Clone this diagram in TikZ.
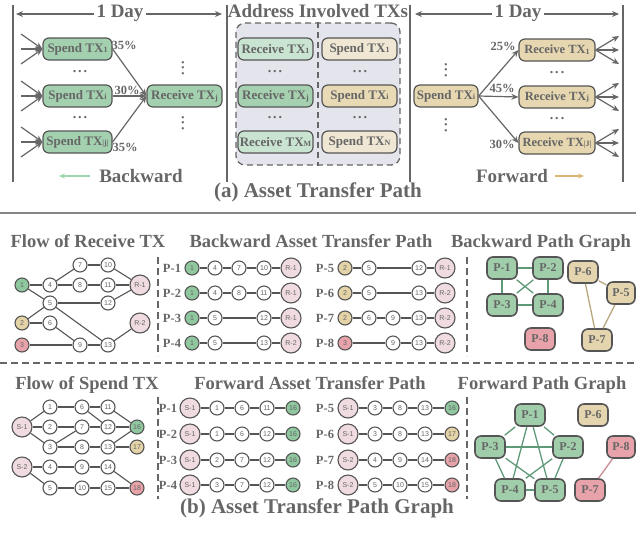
\documentclass[tikz,border=0pt]{standalone}
\usepackage{fontspec}
\setmainfont{Liberation Serif}
\newfontfamily\numfont{Liberation Sans}
\usetikzlibrary{arrows.meta}
\definecolor{tcol}{HTML}{666666}
\definecolor{bcol}{HTML}{555555}
\definecolor{lcol}{HTML}{666666}
\definecolor{gA}{HTML}{A3D1AF}
\definecolor{gL}{HTML}{C9E4D1}
\definecolor{gM}{HTML}{A6D1B1}
\definecolor{tA}{HTML}{E6D7B0}
\definecolor{tL}{HTML}{EFE7D3}
\definecolor{tM}{HTML}{E8DAB5}
\definecolor{boxbg}{HTML}{E4E4EC}
\definecolor{pk}{HTML}{F0DCE0}
\definecolor{rd}{HTML}{E8A3AA}
\definecolor{gc}{HTML}{8FC79F}
\definecolor{tc}{HTML}{E3D3A6}
\definecolor{gpb}{HTML}{A0CDAA}
\definecolor{tpb}{HTML}{E5D5AE}
\definecolor{ge}{HTML}{5F9A78}
\definecolor{te}{HTML}{B8A67E}
\definecolor{re}{HTML}{C98A92}
\definecolor{barrow}{HTML}{9FD6B0}
\definecolor{farrow}{HTML}{D9B673}
\newcommand\mysub[1]{\raisebox{-0.8pt}{\fontsize{8}{8}\selectfont #1}}
\newcommand\mydots{.\hspace{2pt}.\hspace{2pt}.}
\tikzset{
  lbl/.style={text=tcol, font=\bfseries},
  txbox/.style={draw=bcol, line width=1.2pt, rounded corners=6pt, minimum height=22pt, inner sep=0pt, text=tcol, font=\fontsize{13}{13}\selectfont\bfseries},
  arr/.style={draw=lcol, line width=1.2pt, -{Stealth[length=7pt,width=6pt]}},
  dblarr/.style={draw=lcol, line width=1.2pt, {Stealth[length=7pt,width=6pt]}-{Stealth[length=7pt,width=6pt]}},
  vline/.style={draw=lcol, line width=1.5pt},
  circ/.style={circle, draw=bcol, line width=1.1pt, fill=white, minimum size=14pt, inner sep=0pt, text=tcol, font=\numfont\fontsize{7}{7}\selectfont},
  bigc/.style={circ, minimum size=20pt, fill=pk},
  lnk/.style={draw=bcol, line width=1.1pt},
  pbox/.style={draw=bcol, line width=1.6pt, rounded corners=6pt, minimum width=30pt, minimum height=22pt, inner sep=0pt, text=tcol, font=\fontsize{12}{12}\selectfont\bfseries},
  plabel/.style={text=tcol, font=\fontsize{12.5}{12.5}\selectfont\bfseries},
  sectitle/.style={text=tcol, font=\fontsize{18.5}{18.5}\selectfont\bfseries, anchor=base},
  capt/.style={text=tcol, font=\fontsize{21}{21}\selectfont\bfseries, anchor=base},
  pct/.style={text=tcol, font=\fontsize{12.5}{12.5}\selectfont\bfseries},
  dsh/.style={draw=lcol, line width=1.5pt, dash pattern=on 7pt off 4pt},
  dots/.style={text=tcol, inner sep=0pt, font=\fontsize{14}{14}\selectfont\bfseries},
  vdots/.style={dots, rotate=90},
}
\begin{document}
\begin{tikzpicture}[x=1pt,y=-1pt]
\path[use as bounding box] (0,0) rectangle (636,536);

% ===== (a) top section =====
\foreach \x/\nm in {13/va,227/vb,410/vc,623/vd} {
  \coordinate (\nm t) at (\x,5); \coordinate (\nm b) at (\x,182);
  \draw[vline] (\nm t) -- (\nm b);
}
\coordinate (dla) at (16,14); \coordinate (dlb) at (222,14);
\draw[dblarr] (dla) -- (dlb);
\node[lbl, fill=white, inner sep=3pt, font=\fontsize{19}{19}\selectfont\bfseries] (dl) at (120,13) {1 Day};
\coordinate (dra) at (415,14); \coordinate (drb) at (619,14);
\draw[dblarr] (dra) -- (drb);
\node[lbl, fill=white, inner sep=3pt, font=\fontsize{19}{19}\selectfont\bfseries] (dr) at (518,13) {1 Day};
\node[lbl, font=\fontsize{19}{19}\selectfont\bfseries] (addr) at (318,11) {Address Involved TXs};

% left: backward
\node[txbox, fill=gA, minimum width=69pt] (lsp1) at (77.5,49) {Spend TX\mysub{1}};
\node[txbox, fill=gA, minimum width=69pt] (lspi) at (77.5,96) {Spend TX\mysub{i}};
\node[txbox, fill=gA, minimum width=69pt] (lspj) at (77.5,142) {Spend TX\mysub{|j|}};
\node[txbox, fill=gA, minimum width=75pt] (lrj) at (184.5,96) {Receive TX\mysub{j}};
\foreach \n/\y in {lsp1/49, lspi/96, lspj/142} {
  \coordinate (\n a) at (21,\y-15);
  \coordinate (\n b) at (21,\y);
  \coordinate (\n c) at (21,\y+15);
  \draw[arr] (\n a) -- (\n.west);
  \draw[arr] (\n b) -- (\n.west);
  \draw[arr] (\n c) -- (\n.west);
  \draw[arr] (\n.east) -- (lrj.west);
}
\node[pct] (p35a) at (124,45) {35\%};
\node[pct] (p30) at (127,90) {30\%};
\node[pct] (p35b) at (125,147) {35\%};
\node[dots] (ld1) at (80,72) {\mydots};
\node[dots] (ld2) at (80,118) {\mydots};
\node[vdots] (lv1) at (183,68) {\mydots};
\node[vdots] (lv2) at (183,123) {\mydots};
\node[lbl, font=\fontsize{19}{19}\selectfont\bfseries] (bwd) at (141,176) {Backward};
\coordinate (bwa) at (90,176); \coordinate (bwb) at (59,176);
\draw[draw=barrow, line width=1.2pt, -{Stealth[length=6pt,width=5pt]}] (bwa) -- (bwb);

% middle
\node[draw=lcol, line width=1.3pt, dash pattern=on 6pt off 4pt, fill=boxbg, rounded corners=9pt, minimum width=164pt, minimum height=142pt, inner sep=0pt] (abox) at (318,94) {};
\draw[draw=lcol, line width=1.3pt, dash pattern=on 6pt off 4pt] (abox.north) -- (abox.south);
\node[txbox, fill=gL, minimum width=75pt] (mr1) at (275.5,49) {Receive TX\mysub{1}};
\node[txbox, fill=gM, minimum width=75pt] (mrj) at (275.5,96) {Receive TX\mysub{j}};
\node[txbox, fill=gL, minimum width=75pt] (mrm) at (275.5,142) {Receive TX\mysub{M}};
\node[txbox, fill=tL, minimum width=75pt] (ms1) at (359.5,49) {Spend TX\mysub{1}};
\node[txbox, fill=tM, minimum width=75pt] (msi) at (359.5,96) {Spend TX\mysub{i}};
\node[txbox, fill=tL, minimum width=75pt] (msn) at (359.5,142) {Spend TX\mysub{N}};
\node[dots] (md1) at (275,72) {\mydots};
\node[dots] (md2) at (360,72) {\mydots};
\node[dots] (md3) at (275,118) {\mydots};
\node[dots] (md4) at (360,118) {\mydots};

% right: forward
\node[txbox, fill=tA, minimum width=64pt] (rsi) at (446,96) {Spend TX\mysub{i}};
\node[txbox, fill=tA, minimum width=76pt, font=\fontsize{12.5}{12.5}\selectfont\bfseries] (rr1) at (557,50) {Receive TX\mysub{1}};
\node[txbox, fill=tA, minimum width=76pt, font=\fontsize{12.5}{12.5}\selectfont\bfseries] (rrj) at (557,97) {Receive TX\mysub{j}};
\node[txbox, fill=tA, minimum width=76pt, font=\fontsize{12.5}{12.5}\selectfont\bfseries] (rrJ) at (557,143) {Receive TX\mysub{|J|}};
\foreach \n/\y in {rr1/50, rrj/97, rrJ/143} {
  \coordinate (\n a) at (619,\y-14);
  \coordinate (\n b) at (619,\y);
  \coordinate (\n c) at (619,\y+14);
  \draw[arr] (\n.east) -- (\n a);
  \draw[arr] (\n.east) -- (\n b);
  \draw[arr] (\n.east) -- (\n c);
  \draw[arr] (rsi.east) -- (\n.west);
}
\node[pct] (p25) at (503,46) {25\%};
\node[pct] (p45) at (502,88) {45\%};
\node[pct] (p30r) at (502,144) {30\%};
\node[vdots] (rv1) at (446,70) {\mydots};
\node[vdots] (rv2) at (446,125) {\mydots};
\node[dots] (rd1) at (557,73) {\mydots};
\node[dots] (rd2) at (557,119) {\mydots};
\node[lbl, font=\fontsize{19}{19}\selectfont\bfseries] (fwd) at (512,176) {Forward};
\coordinate (fwa) at (555,176); \coordinate (fwb) at (584,176);
\draw[draw=farrow, line width=1.2pt, -{Stealth[length=6pt,width=5pt]}] (fwa) -- (fwb);

\node[capt] (capa) at (318,197) {(a) Asset Transfer Path};

% separators
\coordinate (hl1) at (0,213); \coordinate (hl2) at (636,213);
\draw[draw=lcol!80, line width=1.5pt] (hl1) -- (hl2);
\coordinate (hd1) at (0,363); \coordinate (hd2) at (636,363);
\draw[dsh] (hd1) -- (hd2);
\foreach \x/\nm in {158/da,467/db} {
  \coordinate (\nm 1) at (\x,257); \coordinate (\nm 2) at (\x,356);
  \coordinate (\nm 3) at (\x,397); \coordinate (\nm 4) at (\x,499);
  \draw[dsh] (\nm 1) -- (\nm 2);
  \draw[dsh] (\nm 3) -- (\nm 4);
}

% titles
\node[sectitle] (t1) at (88,247) {Flow of Receive TX};
\node[sectitle] (t2) at (311,247) {Backward Asset Transfer Path};
\node[sectitle] (t3) at (541,247) {Backward Path Graph};
\node[sectitle] (t4) at (87,389) {Flow of Spend TX};
\node[sectitle] (t5) at (310,389) {Forward Asset Transfer Path};
\node[sectitle] (t6) at (542,389) {Forward Path Graph};
\node[capt] (capb) at (317,513) {(b) Asset Transfer Path Graph};

% ===== Flow of Receive TX =====
\node[circ, fill=gc] (fr1) at (22,285) {1};
\node[circ, fill=tc] (fr2) at (22,323) {2};
\node[circ, fill=rd] (fr3) at (22,345) {3};
\node[circ] (fr4) at (50,285) {4};
\node[circ] (fr5) at (50,303) {5};
\node[circ] (fr6) at (50,323) {6};
\node[circ] (fr7) at (80,265) {7};
\node[circ] (fr8) at (80,285) {8};
\node[circ] (fr9) at (80,345) {9};
\node[circ] (fr10) at (108,265) {10};
\node[circ] (fr11) at (108,285) {11};
\node[circ] (fr12) at (108,303) {12};
\node[circ] (fr13) at (108,345) {13};
\node[bigc] (frR1) at (140,285) {R-1};
\node[bigc] (frR2) at (140,323) {R-2};
\foreach \a/\b in {fr1/fr4, fr4/fr7, fr7/fr10, fr10/frR1, fr4/fr8, fr8/fr11, fr11/frR1, fr1/fr5, fr5/fr12, fr12/frR1, fr5/fr13, fr13/frR2, fr2/fr5, fr2/fr6, fr6/fr9, fr9/fr13, fr3/fr9}
  \draw[lnk] (\a) -- (\b);

% ===== Backward Asset Transfer Path =====
% P-1
\node[plabel] (bl1) at (172,268) {P-1};
\node[circ, fill=gc] (b1a) at (192,268) {1};
\node[circ] (b1b) at (215,268) {4};
\node[circ] (b1c) at (239,268) {7};
\node[circ] (b1d) at (264,268) {10};
\node[bigc] (b1e) at (291,268) {R-1};
\draw[lnk] (b1a) -- (b1b) -- (b1c) -- (b1d) -- (b1e);
% P-2
\node[plabel] (bl2) at (172,293) {P-2};
\node[circ, fill=gc] (b2a) at (192,293) {1};
\node[circ] (b2b) at (215,293) {4};
\node[circ] (b2c) at (239,293) {8};
\node[circ] (b2d) at (264,293) {11};
\node[bigc] (b2e) at (291,293) {R-1};
\draw[lnk] (b2a) -- (b2b) -- (b2c) -- (b2d) -- (b2e);
% P-3
\node[plabel] (bl3) at (172,318) {P-3};
\node[circ, fill=gc] (b3a) at (192,318) {1};
\node[circ] (b3b) at (215,318) {5};
\node[circ] (b3d) at (264,318) {12};
\node[bigc] (b3e) at (291,318) {R-1};
\draw[lnk] (b3a) -- (b3b) -- (b3d) -- (b3e);
% P-4
\node[plabel] (bl4) at (172,343) {P-4};
\node[circ, fill=gc] (b4a) at (192,343) {1};
\node[circ] (b4b) at (215,343) {5};
\node[circ] (b4d) at (264,343) {13};
\node[bigc] (b4e) at (291,343) {R-2};
\draw[lnk] (b4a) -- (b4b) -- (b4d) -- (b4e);
% P-5
\node[plabel] (bl5) at (325,268) {P-5};
\node[circ, fill=tc] (b5a) at (345,268) {2};
\node[circ] (b5b) at (369,268) {5};
\node[circ] (b5d) at (419,268) {12};
\node[bigc] (b5e) at (445,268) {R-1};
\draw[lnk] (b5a) -- (b5b) -- (b5d) -- (b5e);
% P-6
\node[plabel] (bl6) at (325,293) {P-6};
\node[circ, fill=tc] (b6a) at (345,293) {2};
\node[circ] (b6b) at (369,293) {5};
\node[circ] (b6d) at (419,293) {13};
\node[bigc] (b6e) at (445,293) {R-2};
\draw[lnk] (b6a) -- (b6b) -- (b6d) -- (b6e);
% P-7
\node[plabel] (bl7) at (325,318) {P-7};
\node[circ, fill=tc] (b7a) at (345,318) {2};
\node[circ] (b7b) at (369,318) {6};
\node[circ] (b7c) at (393,318) {9};
\node[circ] (b7d) at (419,318) {13};
\node[bigc] (b7e) at (445,318) {R-2};
\draw[lnk] (b7a) -- (b7b) -- (b7c) -- (b7d) -- (b7e);
% P-8
\node[plabel] (bl8) at (325,343) {P-8};
\node[circ, fill=rd] (b8a) at (345,343) {3};
\node[circ] (b8c) at (393,343) {9};
\node[circ] (b8d) at (419,343) {13};
\node[bigc] (b8e) at (445,343) {R-2};
\draw[lnk] (b8a) -- (b8c) -- (b8d) -- (b8e);

% ===== Backward Path Graph =====
\node[pbox, fill=gpb] (bgP1) at (502,268) {P-1};
\node[pbox, fill=gpb] (bgP2) at (548,268) {P-2};
\node[pbox, fill=gpb] (bgP3) at (502,305) {P-3};
\node[pbox, fill=gpb] (bgP4) at (548,305) {P-4};
\node[pbox, fill=tpb] (bgP6) at (583,272) {P-6};
\node[pbox, fill=tpb, minimum width=28pt] (bgP5) at (621,293) {P-5};
\node[pbox, fill=rd] (bgP8) at (540,339) {P-8};
\node[pbox, fill=tpb] (bgP7) at (597,340) {P-7};
\foreach \a/\b in {bgP1/bgP2, bgP3/bgP4, bgP1/bgP3, bgP2/bgP4, bgP1/bgP4, bgP2/bgP3}
  \draw[draw=ge, line width=1.3pt] (\a) -- (\b);
\foreach \a/\b in {bgP6/bgP5, bgP6/bgP7, bgP5/bgP7}
  \draw[draw=te, line width=1.3pt] (\a) -- (\b);

% ===== Flow of Spend TX =====
\node[bigc] (fsS1) at (22,427) {S-1};
\node[bigc] (fsS2) at (22,467) {S-2};
\node[circ] (fs1) at (50,407) {1};
\node[circ] (fs2) at (50,427) {2};
\node[circ] (fs3) at (50,447) {3};
\node[circ] (fs4) at (50,467) {4};
\node[circ] (fs5) at (50,488) {5};
\node[circ] (fs6) at (82,407) {6};
\node[circ] (fs7) at (82,427) {7};
\node[circ] (fs8) at (82,447) {8};
\node[circ] (fs9) at (82,467) {9};
\node[circ] (fs10) at (82,488) {10};
\node[circ] (fs11) at (108,407) {11};
\node[circ] (fs12) at (108,427) {12};
\node[circ] (fs13) at (108,447) {13};
\node[circ] (fs14) at (108,467) {14};
\node[circ] (fs15) at (108,488) {15};
\node[circ, fill=gc] (fs16) at (137,427) {16};
\node[circ, fill=tc] (fs17) at (137,447) {17};
\node[circ, fill=rd] (fs18) at (137,488) {18};
\foreach \a/\b in {fsS1/fs1, fsS1/fs2, fsS1/fs3, fs1/fs6, fs6/fs11, fs6/fs12, fs2/fs7, fs3/fs7, fs7/fs12, fs3/fs8, fs8/fs13, fs11/fs16, fs12/fs16, fs13/fs16, fs13/fs17, fsS2/fs4, fsS2/fs5, fs4/fs9, fs9/fs14, fs14/fs18, fs5/fs10, fs10/fs15, fs15/fs18}
  \draw[lnk] (\a) -- (\b);

% ===== Forward Asset Transfer Path =====
\foreach \r/\y/\A/\B/\C/\D/\E/\col in {1/408/S-1/1/6/11/16/gc, 2/434/S-1/1/6/12/16/gc, 3/460/S-1/2/7/12/16/gc, 4/485/S-1/3/7/12/16/gc} {
  \node[plabel] (fl\r) at (168,\y) {P-\r};
  \node[bigc] (f\r a) at (190,\y) {\A};
  \node[circ] (f\r b) at (217,\y) {\B};
  \node[circ] (f\r c) at (242,\y) {\C};
  \node[circ] (f\r d) at (267,\y) {\D};
  \node[circ, fill=\col] (f\r e) at (293,\y) {\E};
  \draw[lnk] (f\r a) -- (f\r b) -- (f\r c) -- (f\r d) -- (f\r e);
}
\foreach \r/\y/\A/\B/\C/\D/\E/\col in {5/408/S-1/3/8/13/16/gc, 6/434/S-1/3/8/13/17/tc, 7/460/S-2/4/9/14/18/rd, 8/485/S-2/5/10/15/18/rd} {
  \node[plabel] (fl\r) at (325,\y) {P-\r};
  \node[bigc] (f\r a) at (348,\y) {\A};
  \node[circ] (f\r b) at (375,\y) {\B};
  \node[circ] (f\r c) at (400,\y) {\C};
  \node[circ] (f\r d) at (425,\y) {\D};
  \node[circ, fill=\col] (f\r e) at (452,\y) {\E};
  \draw[lnk] (f\r a) -- (f\r b) -- (f\r c) -- (f\r d) -- (f\r e);
}

% ===== Forward Path Graph =====
\node[pbox, fill=gpb] (fgP1) at (530,415) {P-1};
\node[pbox, fill=tpb] (fgP6) at (593,415) {P-6};
\node[pbox, fill=gpb] (fgP3) at (490,447) {P-3};
\node[pbox, fill=gpb] (fgP2) at (568,447) {P-2};
\node[pbox, fill=rd, minimum width=28pt] (fgP8) at (621,447) {P-8};
\node[pbox, fill=gpb] (fgP4) at (510,490) {P-4};
\node[pbox, fill=gpb] (fgP5) at (550,490) {P-5};
\node[pbox, fill=rd] (fgP7) at (590,490) {P-7};
\foreach \a/\b in {fgP1/fgP2, fgP1/fgP3, fgP1/fgP4, fgP1/fgP5, fgP2/fgP3, fgP2/fgP4, fgP2/fgP5, fgP3/fgP4, fgP3/fgP5, fgP4/fgP5}
  \draw[draw=ge, line width=1.3pt] (\a) -- (\b);
\draw[draw=re, line width=1.3pt] (fgP8) -- (fgP7);
\end{tikzpicture}
\end{document}
